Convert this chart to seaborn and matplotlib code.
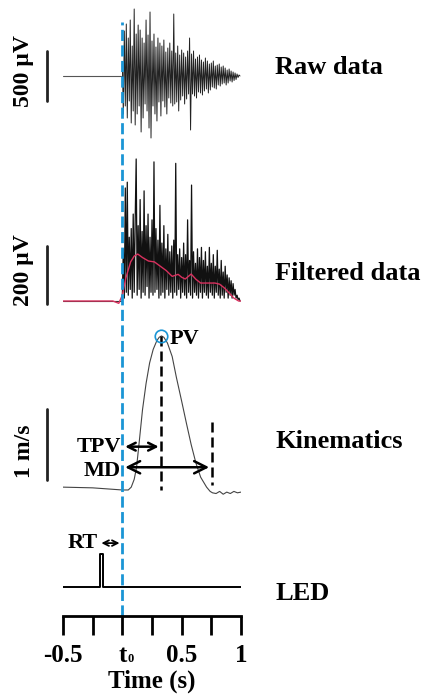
import numpy as np
import matplotlib
matplotlib.use("Agg")
import matplotlib.pyplot as plt
import seaborn as sns

# ---- data ----
# raw EMG (uV), sampled every 1/120 s from t = 0
raw_uv = [
    120, -380, 450, -300, 520, -420, 380, -250, 560, -470,
    300, -350, 670, -490, 420, -380, 510, -300, 460, -560,
    380, -420, 330, -280, 560, -350, 410, -520, 640, -620,
    350, -300, 420, -380, 290, -450, 380, -260, 330, -400,
    300, -250, 360, -310, 240, -380, 280, -220, 330, -270,
    250, -300, 620, -280, 230, -260, 300, -350, 210, -240,
    260, -200, 230, -280, 190, -230, 250, -180, 380, -540,
    220, -180, 250, -200, 170, -220, 190, -160, 210, -170,
    160, -190, 140, -150, 180, -130, 150, -170, 120, -140,
    130, -110, 150, -120, 100, -130, 110, -90, 120, -100,
    90, -80, 100, -70, 80, -90, 60, -70, 70, -50,
    50, -60, 40, -45, 30, -35, 20, -15, 10, 0,
]
# rectified / filtered EMG (uV), same sampling
filt_uv = [
    20, 180, 10, 390, 30, 410, 20, 220, 40, 250,
    10, 300, 30, 280, 490, 20, 260, 40, 350, 10,
    240, 30, 380, 20, 260, 50, 300, 10, 220, 30,
    280, 20, 480, 30, 250, 40, 210, 10, 330, 20,
    200, 30, 260, 10, 180, 40, 230, 20, 170, 30,
    190, 10, 210, 30, 475, 20, 160, 40, 180, 10,
    150, 30, 200, 20, 160, 10, 280, 30, 140, 20,
    400, 10, 170, 30, 130, 20, 180, 10, 150, 30,
    185, 10, 140, 30, 170, 20, 120, 10, 185, 30,
    130, 20, 160, 10, 120, 30, 175, 20, 110, 10,
    140, 20, 100, 10, 120, 30, 90, 10, 80, 20,
    70, 10, 60, 20, 40, 10, 20, 5, 10, 0,
]
# linear envelope (uV)
env_t = [-0.5, -0.08, -0.03, 0.0, 0.03, 0.07, 0.1, 0.13, 0.17, 0.22, 0.27, 0.32,
         0.37, 0.42, 0.47, 0.5, 0.53, 0.58, 0.62, 0.66, 0.72, 0.78, 0.82, 0.86,
         0.9, 0.94, 0.98, 1.0]
env_uv = [0, 0, -8, 20, 80, 135, 155, 162, 150, 138, 135, 120,
          105, 85, 92, 82, 76, 93, 75, 62, 62, 62, 58, 45,
          28, 10, 0, 0]
# hand velocity (m/s)
kin_t = [-0.5, -0.25, 0.0, 0.05, 0.075, 0.1, 0.12, 0.145, 0.17, 0.2, 0.23, 0.26,
         0.29, 0.31, 0.33, 0.35, 0.38, 0.42, 0.455, 0.5, 0.54, 0.58, 0.62, 0.66,
         0.71, 0.74, 0.76, 0.79, 0.82, 0.85, 0.88, 0.91, 0.94, 0.97, 1.0]
kin_v = [0.04, 0.03, 0.0, 0.0, 0.04, 0.15, 0.32, 0.72, 1.13, 1.5, 1.79, 1.98,
         2.1, 2.15, 2.17, 2.15, 2.07, 1.88, 1.59, 1.25, 0.94, 0.64, 0.38, 0.18,
         0.04, -0.02, -0.04, -0.05, -0.02, -0.06, -0.03, -0.05, -0.02, -0.04, -0.03]
# LED state
led_t = [-0.5, -0.19, -0.19, -0.165, -0.165, 1.03]
led_on = [0, 0, 1, 1, 0, 0]

t_peak, v_peak = 0.33, 2.17   # PV
t_end = 0.755                 # end of movement (MD)
t_led = -0.2                  # RT starts here

tick_pos = [-0.5, -0.25, 0, 0.25, 0.5, 0.75, 1.0]
tick_lab = ["-0.5", "", "t", "", "0.5", "", "1"]

# ---- style ----
sns.set_style("white")
plt.rcParams["font.family"] = ["Liberation Serif", "DejaVu Serif"]
plt.rcParams["font.weight"] = "bold"
plt.rcParams["text.color"] = "black"
plt.rcParams["axes.labelcolor"] = "black"
plt.rcParams["xtick.color"] = "black"

W, H = 428, 699
fig = plt.figure(figsize=(W / 100, H / 100), dpi=100)

def px_axes(top, bottom):
    # axes spanning the time range horizontally, given pixel rows
    return fig.add_axes([63 / W, 1 - bottom / H, 178 / W, (bottom - top) / H])

emg_t = np.arange(len(raw_uv)) / 120.0

ax_raw = px_axes(0, 150)
ax_flt = px_axes(150, 310)
ax_kin = px_axes(310, 510)
ax_led = px_axes(510, 616)
ax_all = px_axes(0, 616)

# raw
sns.lineplot(x=[-0.5, 0.0], y=[0, 0], ax=ax_raw, color="#555555", lw=0.8, estimator=None)
sns.lineplot(x=emg_t, y=raw_uv, ax=ax_raw, color="#222222", lw=0.7, estimator=None, sort=False)
ax_raw.set_ylim(-740, 760)

# filtered
sns.lineplot(x=[-0.5, 0.0], y=[0, 0], ax=ax_flt, color="#333333", lw=0.8, estimator=None)
sns.lineplot(x=emg_t, y=filt_uv, ax=ax_flt, color="#111111", lw=0.9, estimator=None, sort=False)
sns.lineplot(x=env_t, y=env_uv, ax=ax_flt, color="#d9305e", lw=1.0, estimator=None, sort=False)
ax_flt.set_ylim(-31, 521)

# kinematics
sns.lineplot(x=kin_t, y=kin_v, ax=ax_kin, color="#444444", lw=0.8, estimator=None, sort=False)
ax_kin.plot([t_peak, t_peak], [v_peak, 0.0], ls=(0, (4, 2)), color="black", lw=1.8)
ax_kin.plot([t_end, t_end], [0.96, 0.07], ls=(0, (4, 2)), color="black", lw=1.8)
ax_kin.plot([t_peak], [v_peak], marker="o", ms=9, mfc="none", mec="#1a95d5", mew=1.2)
ax_kin.annotate("", xy=(0.0, 0.61), xytext=(t_peak, 0.61),
                arrowprops=dict(arrowstyle="<->", lw=1.8, color="black", mutation_scale=14))
ax_kin.annotate("", xy=(0.0, 0.32), xytext=(t_end, 0.32),
                arrowprops=dict(arrowstyle="<->", lw=1.8, color="black", mutation_scale=22))
ax_kin.text(-0.01, 0.61, "TPV", ha="right", va="center", fontsize=16)
ax_kin.text(-0.01, 0.27, "MD", ha="right", va="center", fontsize=16)
ax_kin.text(t_peak + 0.07, v_peak - 0.04, "PV", ha="left", va="center", fontsize=16)
ax_kin.set_ylim(-0.282, 2.535)

# LED
sns.lineplot(x=led_t, y=led_on, ax=ax_led, color="black", lw=1.4, estimator=None, sort=False)
ax_led.annotate("", xy=(t_led, 1.33), xytext=(0.0, 1.33),
                arrowprops=dict(arrowstyle="<->", lw=1.3, color="black", mutation_scale=10))
ax_led.text(t_led - 0.005, 1.33, "RT", ha="right", va="center", fontsize=16)
ax_led.set_ylim(-0.879, 2.333)

# scale bars
bar_x = -0.635
ax_raw.plot([bar_x, bar_x], [-250, 250], color="#222222", lw=2, clip_on=False)
ax_flt.plot([bar_x, bar_x], [-10, 190], color="#222222", lw=2, clip_on=False)
ax_kin.plot([bar_x, bar_x], [0.14, 1.14], color="#222222", lw=2, clip_on=False)
fig.text(24 / W, 1 - 71 / H, "500 \u00b5V", rotation=90, ha="center", va="center", fontsize=17)
fig.text(24 / W, 1 - 270 / H, "200 \u00b5V", rotation=90, ha="center", va="center", fontsize=17)
fig.text(24 / W, 1 - 451 / H, "1 m/s", rotation=90, ha="center", va="center", fontsize=17)

# trace names
for name, yp in [("Raw data", 68), ("Filtered data", 273), ("Kinematics", 441), ("LED", 594)]:
    fig.text(275 / W, 1 - yp / H, name, ha="left", va="center", fontsize=19)

for ax in [ax_raw, ax_flt, ax_kin, ax_led, ax_all]:
    ax.set_xlim(-0.5, 1.0)
    ax.patch.set_alpha(0)
    for s in ax.spines.values():
        s.set_visible(False)
    ax.set_xticks([])
    ax.set_yticks([])

# onset line + time axis
ax_all.set_ylim(0, 616)
ax_all.axvline(0.0, ymin=0, ymax=(616 - 22) / 616, color="#1a95d5", lw=2, ls=(0, (4, 1.6)))
ax_all.spines["bottom"].set_visible(True)
ax_all.spines["bottom"].set_linewidth(2)
ax_all.spines["bottom"].set_color("black")
ax_all.set_xticks(tick_pos)
ax_all.set_xticklabels(tick_lab, fontsize=18)
ax_all.tick_params(axis="x", direction="out", length=14, width=2, color="black", pad=6, bottom=True)
ax_all.set_xlabel("Time (s)", fontsize=18, fontweight="bold", labelpad=2)
# subscript of t0
fig.text(127.5 / W, 1 - 659 / H, "0", ha="left", va="center", fontsize=9)

fig.savefig("out.png", dpi=100)
